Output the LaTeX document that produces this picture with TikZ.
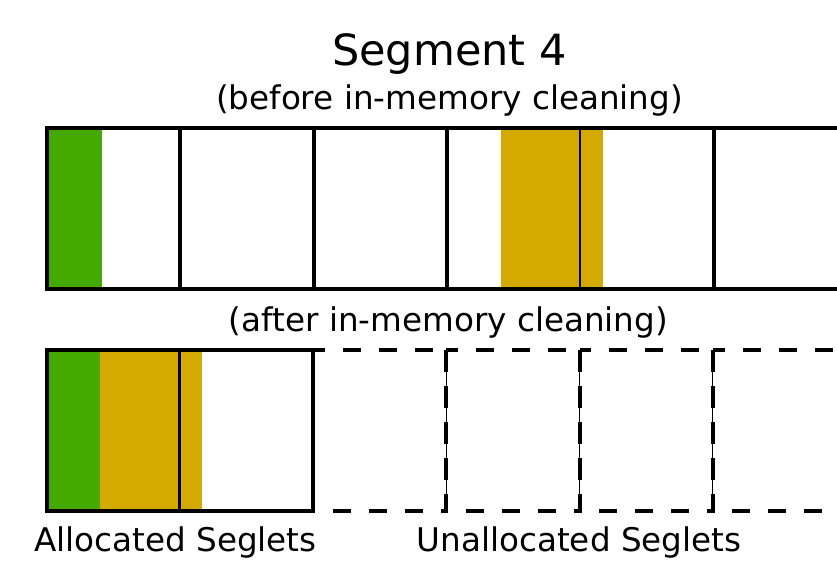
\documentclass[tikz,border=0pt]{standalone}
\usepackage{fontspec}
\setmainfont{DejaVu Sans}
\definecolor{livegreen}{HTML}{44AA00}
\definecolor{livegold}{HTML}{D4AA00}
\begin{document}
\begin{tikzpicture}[x=1pt,y=-1pt,
  wall/.style={line width=4pt, line cap=rect},
  thinwall/.style={line width=2.4pt},
  freewall/.style={line width=4pt, dash pattern=on 18pt off 18pt},
  hairline/.style={line width=0.9pt},
  titletext/.style={inner sep=0pt, anchor=base, font=\fontsize{43}{50}\selectfont},
  labeltext/.style={inner sep=0pt, anchor=base, font=\fontsize{32.6}{38}\selectfont}]
\useasboundingbox (0,0) rectangle (837,560);

% headings
\node[titletext] (title) at (449.5,65) {Segment 4};
\node[labeltext] (before) at (449.5,109) {(before in-memory cleaning)};
\node[labeltext] (after) at (448.5,331) {(after in-memory cleaning)};
\node[labeltext] (alloc) at (175.5,551) {Allocated Seglets};
\node[labeltext] (unalloc) at (579,551) {Unallocated Seglets};

% segment before cleaning: live data scattered over the seglets
\fill[livegreen] (47,128) rectangle (102,289);
\fill[livegold] (501,128) rectangle (602.7,289);
\draw[wall] (47,128) rectangle (846.8,289);
\foreach \x in {180.3,313.6,446.9,713.5}
  \draw[wall] (\x,128) -- (\x,289);
\draw[thinwall] (580.2,128) -- (580.2,289);

% segment after cleaning: live data compacted into the first seglets
\fill[livegreen] (47,350) rectangle (100,510.5);
\fill[livegold] (100,350) rectangle (202,510.5);
\foreach \x in {313,446.3,579.6,712.9}
  \draw[hairline] (\x,350) -- (\x,510.5);
\foreach \x in {313,446.3,579.6,712.9}
  \draw[freewall] (\x,350) rectangle ({\x+133.3},510.5);
\draw[wall] (47,350) rectangle (313,510.5);
\draw[thinwall] (179.5,350) -- (179.5,510.5);
\end{tikzpicture}
\end{document}
